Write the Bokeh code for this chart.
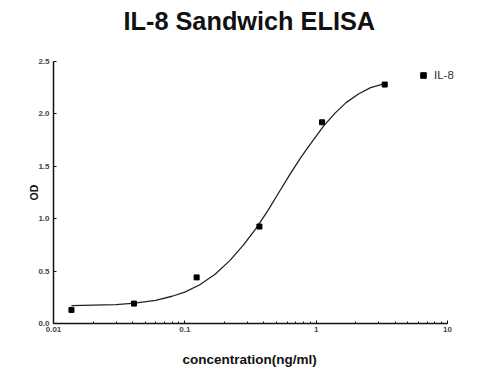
from bokeh.plotting import figure
from bokeh.models import (FixedTicker, LogTicker, CustomJSTickFormatter,
                          PrintfTickFormatter, Legend, LegendItem, Range1d, Title)
from bokeh.embed import file_html
from bokeh.resources import INLINE

# measured standards (ng/ml, OD)
conc = [0.0137, 0.041, 0.123, 0.37, 1.11, 3.33]
od = [0.13, 0.19, 0.44, 0.925, 1.92, 2.28]

# fitted curve
curve_conc = [0.0137, 0.02, 0.03, 0.0415, 0.06, 0.08, 0.1, 0.13, 0.17, 0.22, 0.28,
              0.35, 0.43, 0.52, 0.63, 0.77, 0.95, 1.15, 1.4, 1.7, 2.1, 2.6, 3.33]
curve_od = [0.17, 0.175, 0.18, 0.195, 0.22, 0.26, 0.30, 0.37, 0.47, 0.60, 0.75,
            0.91, 1.08, 1.25, 1.42, 1.59, 1.75, 1.89, 2.01, 2.11, 2.19, 2.25, 2.29]

y_ticks = [0.0, 0.5, 1.0, 1.5, 2.0, 2.5]
x_axis_start, x_axis_end = 0.01, 10
x_view_end = 14.98  # extra room right of the axis end for the legend label

FONT = "Liberation Sans"

p = figure(width=484, height=370, x_axis_type="log",
           x_range=Range1d(x_axis_start, x_view_end), y_range=Range1d(0, 2.5),
           output_backend="svg", toolbar_location=None,
           min_border_left=53, min_border_right=14,
           min_border_top=61, min_border_bottom=47)

p.title.text = "IL-8 Sandwich ELISA"
p.title.align = "left"
p.title.offset = 70
p.title.vertical_align = "top"
p.title.standoff = 0
p.title.padding = {"left": 0, "right": 0, "top": 0, "bottom": 25}
p.title.text_font = FONT
p.title.text_font_size = "25.3px"
p.title.text_font_style = "bold"
p.title.text_color = "#111111"

p.outline_line_color = None
p.xgrid.grid_line_color = None
p.ygrid.grid_line_color = None

line = p.line(curve_conc, curve_od, line_color="#222222", line_width=1.3)
pts = p.scatter(conc, od, marker="square", size=5, fill_color="black", line_color="black")

# axes
xa = p.xaxis[0]
xa.ticker = LogTicker(num_minor_ticks=10)
xa.formatter = CustomJSTickFormatter(code="return Number(tick.toPrecision(6)).toString();")
xa.bounds = (x_axis_start, x_axis_end)
ya = p.yaxis[0]
ya.ticker = FixedTicker(ticks=y_ticks)
ya.formatter = PrintfTickFormatter(format="%.1f")

for ax in (xa, ya):
    ax.axis_line_color = "#111111"
    ax.axis_line_width = 1.5
    ax.major_tick_line_color = "#111111"
    ax.minor_tick_line_color = "#111111"
    ax.major_tick_in = 3
    ax.major_tick_out = 0
    ax.minor_tick_in = 2
    ax.minor_tick_out = 0
    ax.major_label_text_font = FONT
    ax.major_label_text_font_size = "8px"
    ax.major_label_text_font_style = "bold"
    ax.major_label_text_color = "#444444"
    ax.axis_label_text_font = FONT
    ax.axis_label_text_font_style = "bold"
    ax.axis_label_text_color = "#111111"

ya.minor_tick_line_color = None
ya.major_label_standoff = 4
ya.major_label_text_baseline = "bottom"
xa.major_label_standoff = 3

# x-axis title, placed under the axis so it can be centred on the axis line
x_title = Title(text="concentration(ng/ml)", align="left", offset=129,
                vertical_align="top", standoff=0,
                padding={"left": 0, "right": 0, "top": 17, "bottom": 0},
                text_font=FONT, text_font_size="13.5px", text_font_style="bold",
                text_color="#111111")
p.add_layout(x_title, "below")

ya.axis_label = "OD"
ya.axis_label_text_font_size = "10.5px"
ya.axis_label_standoff = -5

legend = Legend(items=[LegendItem(label="IL-8", renderers=[pts])],
                location=(363, 241), border_line_color=None,
                background_fill_alpha=0, padding=0, margin=0,
                glyph_width=14, glyph_height=14, label_height=14,
                label_standoff=4, label_text_font=FONT,
                label_text_font_size="11.5px", label_text_color="#333333")
p.add_layout(legend, "center")

open("out.html", "w").write(file_html(p, INLINE))
